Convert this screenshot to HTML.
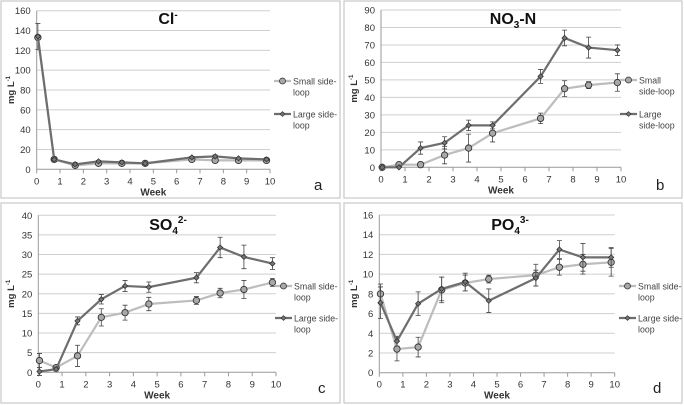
<!DOCTYPE html>
<html><head><meta charset="utf-8">
<style>
body{margin:0;background:#fff;}
svg{display:block;font-family:"Liberation Sans",sans-serif;}
</style></head>
<body>
<svg id="chart" width="684" height="405" viewBox="0 0 684 405"></svg>
<script>
const weeks = [0.05,0.75,1.65,2.65,3.65,4.65,6.65,7.65,8.65,9.85];
const xTicks = [0,1,2,3,4,5,6,7,8,9,10];
const clSmall = [133,10,4,6,6,6,10,9,9,9];
const clSmallErr = [0,1,1,1,1,1,1,1,1,1];
const clLarge = [134,10,5,8,7,6,12,13,11,10];
const clLargeErr = [13,1.5,1,1,1,1,1,1.5,1,1];
const clTicks = [0,20,40,60,80,100,120,140,160];
const noSmall = [0,1.5,1.5,7,11,19.5,28,45,47,48.5];
const noSmallErr = [0,0.5,1.5,5,8,5,3,4.5,2,5];
const noLarge = [0,0,11,14,24,24,52,74,68.5,67];
const noLargeErr = [0,0,3.5,3.5,3,2,4,4.5,6,3];
const noTicks = [0,10,20,30,40,50,60,70,80,90];
const soSmall = [3,1.2,4.2,14,15.2,17.4,18.3,20.2,21.1,22.9];
const soSmallErr = [1.8,0.5,2.7,2.2,1.9,1.7,1,1.2,2.3,1];
const soLarge = [0.2,0.8,13.1,18.6,22,21.7,24.1,31.8,29.4,27.7];
const soLargeErr = [1,0.5,1,1.2,1.4,1.3,1.3,2.6,3,1.5];
const soTicks = [0,5,10,15,20,25,30,35,40];
const poSmall = [8,2.4,2.6,8.4,9.1,9.5,9.9,10.7,11,11.2];
const poSmallErr = [1,1.2,1,1.3,0.8,0.4,1.1,0.8,1,1.4];
const poLarge = [7.1,3.2,7,8.5,9.2,7.3,9.6,12.5,11.7,11.7];
const poLargeErr = [1.6,0.5,1.2,1.2,0.9,1.2,0.8,0.9,1.4,1];
const poTicks = [0,2,4,6,8,10,12,14,16];

const svg = document.getElementById('chart');
const NS = 'http://www.w3.org/2000/svg';
function mk(tag, attrs, parent){
  const e = document.createElementNS(NS, tag);
  for (const k in attrs) e.setAttribute(k, attrs[k]);
  (parent||svg).appendChild(e);
  return e;
}

function panel(o){
  const g = mk('g', {});
  
  
  const fr = mk('rect', {x:o.bx, y:o.by, width:o.bw, height:o.bh, fill:'#fff', stroke:'#c8c8c8', 'stroke-width':1.2}, g);
  
  
  const ymax = o.ticks[o.ticks.length-1];
  const X = v => o.x0 + (o.x1 - o.x0) * v / 10;
  const Y = v => o.y0 - (o.y0 - o.y1) * v / ymax;
  o.ticks.forEach(t => {
    const gl = mk('line', {x1:X(0), x2:X(10), y1:Y(t), y2:Y(t), stroke: t===0?'#999':'#cfcfcf', 'stroke-width':1}, g);
    
    
    const tl = mk('text', {x:X(0)-6, y:Y(t)+3.5, 'font-size':9.5, 'text-anchor':'end', fill:'#333'}, g);
    tl.textContent = t;
    
    
  });
  const ya = mk('line', {x1:X(0), x2:X(0), y1:Y(0), y2:Y(ymax), stroke:'#999'}, g);
  
  
  xTicks.forEach(t => {
    mk('line', {x1:X(t), x2:X(t), y1:Y(0), y2:Y(0)+4, stroke:'#999'}, g);
    const tl = mk('text', {x:X(t), y:Y(0)+15, 'font-size':9.5, 'text-anchor':'middle', fill:'#333'}, g);
    tl.textContent = t;
    
    
  });
  const xt = mk('text', {x:(X(0)+X(10))/2, y:Y(0)+26, 'font-size':10, 'font-weight':'bold', 'text-anchor':'middle', fill:'#333'}, g);
  xt.textContent = 'Week';
  
  
  const yt = mk('text', {x:0, y:0, 'font-size':9.5, 'font-weight':'bold', 'text-anchor':'middle', fill:'#333', transform:`translate(${o.bx+13},${(Y(0)+Y(ymax))/2}) rotate(-90)`}, g);
  yt.innerHTML = 'mg L<tspan dy="-4" font-size="6">-1</tspan>';
  
  
  const ti = mk('text', {x:o.tx, y:o.ty, 'font-size':16, 'font-weight':'bold', 'text-anchor':'middle', fill:'#111'}, g);
  ti.innerHTML = o.title;
  
  
  const lt = mk('text', {x:o.lx, y:o.ly, 'font-size':15, fill:'#222'}, g);
  lt.textContent = o.letter;
  
  

  function series(vals, errs, color, width, marker, name){
    const sg = mk('g', {}, g);
    
    
    vals.forEach((v,i) => {
      if (errs[i] > 0) {
        const x = X(weeks[i]);
        const e = mk('path', {d:`M${x},${Y(v-errs[i])}V${Y(v+errs[i])}M${x-2.5},${Y(v-errs[i])}h5M${x-2.5},${Y(v+errs[i])}h5`, stroke:'#444', 'stroke-width':0.8, fill:'none'}, sg);
        
        
      }
    });
    const pl = mk('polyline', {points: vals.map((v,i)=>X(weeks[i])+','+Y(v)).join(' '), fill:'none', stroke:color, 'stroke-width':width}, sg);
    
    
    vals.forEach((v,i) => {
      const x = X(weeks[i]), y = Y(v);
      let m;
      if (marker === 'circle') m = mk('circle', {cx:x, cy:y, r:3.2, fill:'#a8a8a8', stroke:'#333', 'stroke-width':0.9}, sg);
      else m = mk('path', {d:`M${x},${y-2.6}L${x+2.6},${y}L${x},${y+2.6}L${x-2.6},${y}Z`, fill:'#777', stroke:'#333', 'stroke-width':0.8}, sg);
      
      
    });
  }
  series(o.small, o.smallErr, '#bdbdbd', 2.2, 'circle', 'small-side-loop-series');
  series(o.large, o.largeErr, '#6e6e6e', 2.2, 'diamond', 'large-side-loop-series');

  [[o.leg1, '#bdbdbd', 'circle', o.smallLbl, 'legend-small'], [o.leg2, '#6e6e6e', 'diamond', o.largeLbl, 'legend-large']].forEach(([ly, c, mkType, lbl, nm]) => {
    const lg = mk('g', {}, g);
    
    
    mk('line', {x1:o.legx, x2:o.legx+17, y1:ly, y2:ly, stroke:c, 'stroke-width':2.2}, lg);
    const cx = o.legx + 8.5;
    if (mkType === 'circle') mk('circle', {cx:cx, cy:ly, r:3, fill:'#a8a8a8', stroke:'#333', 'stroke-width':0.8}, lg);
    else mk('path', {d:`M${cx},${ly-2.4}L${cx+2.4},${ly}L${cx},${ly+2.4}L${cx-2.4},${ly}Z`, fill:'#777', stroke:'#333', 'stroke-width':0.7}, lg);
    lbl.forEach((s,k) => {
      const t = mk('text', {x:o.legx+19, y:ly+3.5+k*11, 'font-size':8.8, fill:'#444'}, lg);
      t.textContent = s;
    });
  });
}

panel({letter:'a', bx:1, by:1, bw:339, bh:197, x0:36.7, x1:270, y0:169.3, y1:10.7, ticks:clTicks,
  small:clSmall, smallErr:clSmallErr, large:clLarge, largeErr:clLargeErr,
  title:'Cl<tspan dy="-6" font-size="10">-</tspan>', tx:168, ty:24, lx:314, ly:190,
  legx:274, leg1:81, leg2:114, smallLbl:['Small side-','loop'], largeLbl:['Large side-','loop']});
panel({letter:'b', bx:344, by:1, bw:338, bh:197, x0:381, x1:621, y0:167.3, y1:10, ticks:noTicks,
  small:noSmall, smallErr:noSmallErr, large:noLarge, largeErr:noLargeErr,
  title:'NO<tspan dy="4" font-size="10">3</tspan><tspan dy="-4">-N</tspan>', tx:513, ty:24, lx:656, ly:190,
  legx:620, leg1:80, leg2:114, smallLbl:['Small','side-loop'], largeLbl:['Large','side-loop']});
panel({letter:'c', bx:1, by:203, bw:339, bh:200, x0:38.3, x1:276, y0:372.3, y1:215.3, ticks:soTicks,
  small:soSmall, smallErr:soSmallErr, large:soLarge, largeErr:soLargeErr,
  title:'SO<tspan dy="4" font-size="10">4</tspan><tspan dy="-11" font-size="10">2-</tspan>', tx:168, ty:230, lx:318, ly:393,
  legx:275, leg1:286, leg2:318, smallLbl:['Small side-','loop'], largeLbl:['Large side-','loop']});
panel({letter:'d', bx:344, by:203, bw:338, bh:200, x0:379.3, x1:614.7, y0:372.7, y1:215, ticks:poTicks,
  small:poSmall, smallErr:poSmallErr, large:poLarge, largeErr:poLargeErr,
  title:'PO<tspan dy="4" font-size="10">4</tspan><tspan dy="-11" font-size="10">3-</tspan>', tx:510, ty:230, lx:653, ly:393,
  legx:619, leg1:286, leg2:318, smallLbl:['Small side-','loop'], largeLbl:['Large side-','loop']});
</script>
</body></html>
